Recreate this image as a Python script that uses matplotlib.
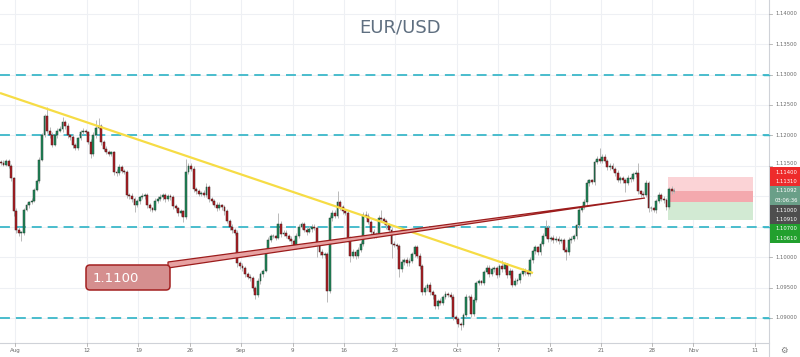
import matplotlib
matplotlib.use("Agg")
import matplotlib.pyplot as plt
from matplotlib.patches import Rectangle, FancyBboxPatch, Polygon
from matplotlib.lines import Line2D
from matplotlib.transforms import IdentityTransform

# ---------------- data (prices in pips: 11155 -> 1.1155) ----------------
first_bar_open = 11157
first_day_index = -2          # Jul 30, trading-day index relative to Aug 1
first_day_sub = 2             # first visible bar of that day
bars_per_day = 4

closes_by_day = [
    [11155, 11152],                       # Jul 30
    [11158, 11150, 11130, 11075],         # Jul 31
    [11045, 11040, 11040, 11078],         # Aug 1
    [11085, 11090, 11092, 11110],         # Aug 2
    [11125, 11160, 11200, 11232],         # Aug 5
    [11208, 11200, 11185, 11200],         # Aug 6
    [11208, 11210, 11222, 11215],         # Aug 7
    [11200, 11198, 11185, 11180],         # Aug 8
    [11195, 11205, 11208, 11205],         # Aug 9
    [11190, 11170, 11200, 11213],         # Aug 12
    [11215, 11190, 11178, 11172],         # Aug 13
    [11170, 11172, 11140, 11138],         # Aug 14
    [11148, 11142, 11140, 11102],         # Aug 15
    [11100, 11095, 11086, 11092],         # Aug 16
    [11098, 11100, 11102, 11085],         # Aug 19
    [11080, 11078, 11092, 11096],         # Aug 20
    [11098, 11102, 11096, 11100],         # Aug 21
    [11098, 11084, 11080, 11072],         # Aug 22
    [11075, 11066, 11140, 11150],         # Aug 23
    [11145, 11112, 11108, 11104],         # Aug 26
    [11106, 11102, 11116, 11095],         # Aug 27
    [11092, 11086, 11080, 11085],         # Aug 28
    [11082, 11075, 11060, 11050],         # Aug 29
    [11045, 11040, 10990, 10985],         # Aug 30
    [10982, 10972, 10968, 10965],         # Sep 2
    [10950, 10938, 10960, 10972],         # Sep 3
    [10978, 11010, 11028, 11034],         # Sep 4
    [11034, 11032, 11055, 11038],         # Sep 5
    [11040, 11035, 11030, 11026],         # Sep 6
    [11018, 11035, 11050, 11055],         # Sep 9
    [11045, 11042, 11046, 11050],         # Sep 10
    [11048, 11022, 11008, 11003],         # Sep 11
    [11005, 10945, 11065, 11072],         # Sep 12
    [11068, 11090, 11082, 11075],         # Sep 13
    [11072, 11030, 11002, 11008],         # Sep 16
    [11002, 11012, 11022, 11070],         # Sep 17
    [11068, 11058, 11042, 11035],         # Sep 18
    [11038, 11064, 11062, 11060],         # Sep 19
    [11052, 11045, 11022, 11020],         # Sep 20
    [11018, 10980, 10992, 10995],         # Sep 23
    [10990, 10994, 11005, 11016],         # Sep 24
    [11002, 10985, 10942, 10950],         # Sep 25
    [10955, 10942, 10937, 10920],         # Sep 26
    [10928, 10925, 10935, 10940],         # Sep 27
    [10938, 10935, 10902, 10898],         # Sep 30
    [10890, 10889, 10905, 10934],         # Oct 1
    [10935, 10906, 10930, 10957],         # Oct 2
    [10960, 10958, 10975, 10982],         # Oct 3
    [10972, 10980, 10982, 10970],         # Oct 4
    [10985, 10980, 10988, 10970],         # Oct 7
    [10978, 10955, 10960, 10962],         # Oct 8
    [10972, 10978, 10975, 10972],         # Oct 9
    [10995, 11010, 11016, 11008],         # Oct 10
    [11022, 11035, 11048, 11030],         # Oct 11
    [11032, 11028, 11030, 11026],         # Oct 14
    [11028, 11012, 11008, 11028],         # Oct 15
    [11030, 11034, 11052, 11078],         # Oct 16
    [11082, 11090, 11122, 11126],         # Oct 17
    [11124, 11156, 11162, 11158],         # Oct 18
    [11165, 11158, 11148, 11150],         # Oct 21
    [11145, 11138, 11127, 11130],         # Oct 22
    [11126, 11122, 11130, 11128],         # Oct 23
    [11136, 11138, 11108, 11104],         # Oct 24
    [11102, 11122, 11080, 11080],         # Oct 25
    [11078, 11092, 11102, 11096],         # Oct 28
    [11094, 11082, 11112, 11108],         # Oct 29
    [11109],                              # Oct 30
]

wick_up_by_day = [
    [3, 4], [4, 3, 3, 2], [5, 4, 3, 3], [4, 3, 5, 4], [3, 5, 4, 3],
    [14, 6, 5, 4], [4, 5, 8, 4], [5, 3, 4, 3], [3, 4, 5, 3], [3, 4, 5, 13],
    [13, 4, 3, 4], [4, 3, 3, 5], [5, 4, 3, 4], [4, 5, 3, 4], [3, 5, 4, 3],
    [4, 3, 5, 4], [5, 4, 3, 4], [3, 4, 4, 3], [4, 3, 22, 5], [4, 5, 3, 4],
    [3, 4, 5, 3], [4, 3, 4, 5], [3, 4, 4, 3], [4, 3, 5, 4], [5, 4, 3, 4],
    [4, 3, 5, 4], [3, 4, 5, 4], [4, 3, 17, 4], [5, 4, 3, 4], [4, 5, 4, 3],
    [3, 4, 5, 4], [4, 3, 4, 5], [4, 3, 5, 6], [5, 18, 4, 3], [4, 3, 4, 5],
    [3, 4, 5, 4], [5, 4, 3, 4], [4, 5, 14, 4], [3, 4, 4, 5], [4, 3, 5, 4],
    [5, 4, 3, 4], [4, 5, 3, 4], [3, 4, 4, 3], [4, 5, 3, 4], [3, 4, 4, 3],
    [4, 3, 4, 5], [3, 4, 5, 4], [4, 3, 4, 5], [5, 4, 3, 4], [4, 10, 4, 3],
    [4, 3, 5, 4], [3, 4, 4, 5], [5, 4, 4, 3], [4, 5, 13, 4], [3, 4, 5, 4],
    [4, 3, 4, 5], [5, 4, 3, 4], [4, 5, 4, 3], [3, 4, 5, 17], [5, 4, 3, 4],
    [4, 3, 5, 4], [3, 4, 5, 4], [4, 5, 17, 3], [5, 4, 3, 4], [3, 4, 5, 4],
    [4, 3, 4, 5], [4],
]

wick_dn_by_day = [
    [4, 3], [3, 4, 5, 7], [6, 5, 13, 3], [3, 4, 3, 2], [2, 3, 2, 3],
    [4, 5, 4, 3], [5, 3, 4, 5], [4, 5, 5, 4], [4, 3, 3, 4], [4, 7, 3, 4],
    [3, 5, 4, 3], [3, 4, 5, 4], [3, 4, 4, 5], [5, 4, 12, 3], [4, 3, 4, 5],
    [5, 4, 3, 3], [3, 4, 5, 4], [4, 5, 4, 5], [5, 8, 3, 4], [4, 5, 4, 3],
    [4, 3, 4, 5], [3, 4, 5, 3], [4, 5, 4, 5], [5, 4, 6, 4], [4, 5, 4, 5],
    [5, 6, 3, 4], [4, 3, 4, 3], [3, 4, 3, 5], [4, 3, 4, 5], [5, 4, 3, 4],
    [4, 5, 3, 4], [3, 22, 5, 4], [5, 19, 4, 5], [4, 3, 5, 4], [3, 5, 10, 4],
    [5, 4, 3, 4], [4, 3, 5, 4], [3, 4, 4, 5], [5, 4, 24, 4], [4, 12, 4, 5],
    [4, 5, 3, 4], [3, 4, 5, 4], [5, 4, 5, 6], [5, 4, 4, 3], [4, 3, 5, 4],
    [5, 8, 4, 3], [4, 5, 3, 4], [3, 4, 4, 3], [4, 3, 5, 4], [3, 4, 5, 4],
    [5, 4, 3, 4], [4, 3, 4, 3], [3, 4, 5, 4], [4, 3, 4, 5], [4, 5, 3, 4],
    [3, 4, 13, 4], [4, 3, 5, 4], [4, 3, 4, 5], [4, 5, 3, 4], [4, 3, 5, 4],
    [3, 4, 4, 5], [4, 15, 3, 4], [3, 4, 4, 5], [4, 3, 6, 4], [4, 5, 3, 4],
    [5, 4, 3, 4], [3],
]

date_ticks = [0, 7, 12, 17, 22, 27, 32, 37, 43, 47, 52, 57, 62, 66, 72]
date_labels = ["Aug", "12", "19", "26", "Sep", "9", "16", "23", "Oct",
               "7", "14", "21", "28", "Nov", "11"]
price_ticks = [1.090, 1.095, 1.100, 1.105, 1.110, 1.115, 1.120, 1.125,
               1.130, 1.135, 1.140]
level_lines = [1.130, 1.120, 1.105, 1.090]
callout_text = "1.1100"
stop_price, entry_price, target_price, last_price = 1.1131, 1.1091, 1.1061, 1.11092
countdown = "03:06:36"
tag_groups = [  # (labels, colour)
    (["1.11400", "1.11310"], "#ee2b2b"),
    (["1.11092", countdown], "#6a9f88"),
    (["1.11000", "1.10910"], "#4e4e4e"),
    (["1.10700", "1.10610"], "#22a02e"),
]
title = "EUR/USD"

# ---------------- figure ----------------
W, H = 800, 357
fig = plt.figure(figsize=(W / 100, H / 100), dpi=100)
fig.patch.set_facecolor("white")
AX_R, AX_B = 769, 343
ax = fig.add_axes([0, (H - AX_B) / H, AX_R / W, AX_B / H])
PX_PER_DAY = 10.28
X0 = 15  # pixel of Aug 1
ax.set_xlim(-X0 / PX_PER_DAY, (AX_R - X0) / PX_PER_DAY)
PX_PER_UNIT = 6086
ax.set_ylim(1.14 - (AX_B - 13.7) / PX_PER_UNIT, 1.14 + 13.7 / PX_PER_UNIT)
for s in ax.spines.values():
    s.set_visible(False)
ax.set_xticks([])
ax.set_yticks([])

def px_to_data(x, y):
    return (x - X0) / PX_PER_DAY, 1.14 - (y - 13.7) / PX_PER_UNIT

grid_c = "#eef0f4"
for d in date_ticks:
    ax.axvline(d, color=grid_c, lw=0.8, zorder=0)
for p in price_ticks:
    ax.axhline(p, color=grid_c, lw=0.8, zorder=0)

# horizontal dashed levels
for lv in level_lines:
    ax.axhline(lv, color="#3cb8c9", lw=1.3, dashes=(5.5, 3.3), zorder=1)

# ---------------- candles ----------------
prev = first_bar_open
for i, day in enumerate(closes_by_day):
    d = first_day_index + i
    start = first_day_sub if i == 0 else 0
    for k, c in enumerate(day):
        sub = start + k
        x = d + (sub + 0.5) / bars_per_day
        o = prev
        up = wick_up_by_day[i][k]
        dn = wick_dn_by_day[i][k]
        hi = (max(o, c) + up) / 1e4
        lo = (min(o, c) - dn) / 1e4
        ax.vlines(x, lo, hi, color="#b9b9b9", lw=0.7, zorder=2)
        if c >= o:
            fc, ec = "#1f8a5b", "#233d30"
        else:
            fc, ec = "#b51d24", "#3d1d1d"
        h = max(abs(c - o), 0.8) / 1e4
        ax.bar(x, h, bottom=min(o, c) / 1e4, width=0.18, color=fc,
               edgecolor=ec, linewidth=0.35, zorder=3)
        prev = c

# ---------------- trend lines ----------------
xa, ya = px_to_data(0, 93)
xb, yb = px_to_data(533, 273)
ax.plot([xa, xb], [ya, yb], color="#f6dc45", lw=1.6, zorder=4,
        solid_capstyle="butt")

p1 = px_to_data(168, 262)
p2 = px_to_data(168, 268)
p3 = px_to_data(645, 198)
ax.add_patch(Polygon([p1, p3, p2], closed=True, facecolor="#e7a2a2",
                     edgecolor="#9c1c1c", lw=0.9, zorder=5))

# ---------------- position box ----------------
bx0, _ = px_to_data(668, 0)
bx1, _ = px_to_data(753, 0)
ax.add_patch(Rectangle((bx0, entry_price), bx1 - bx0, stop_price - entry_price,
                       facecolor="#fbd3d6", edgecolor="none", zorder=1.5))
ax.add_patch(Rectangle((bx0, entry_price), bx1 - bx0, last_price - entry_price,
                       facecolor="#f4a9ae", edgecolor="none", zorder=1.6))
ax.add_patch(Rectangle((bx0, target_price), bx1 - bx0, entry_price - target_price,
                       facecolor="#d2ead3", edgecolor="none", zorder=1.5))

# ---------------- pixel-space decorations ----------------
idt = IdentityTransform()

def fy(y):
    return H - y

# callout box
box = FancyBboxPatch((86, fy(290)), 84, 25, boxstyle="round,pad=0,rounding_size=4",
                     transform=idt, facecolor="#d58f8f", edgecolor="#a32121",
                     lw=1.1, zorder=10)
fig.add_artist(box)
fig.text(93 / W, 1 - 278 / H, callout_text, color="white", fontsize=9.5,
         va="center", ha="left", zorder=11)

# title
fig.text(400 / W, 1 - 28 / H, title, color="#5f6f80", fontsize=13,
         ha="center", va="center")

# axis separators
fig.add_artist(Line2D([AX_R / W, AX_R / W], [0, 1], color="#cfd2d8", lw=0.8))
fig.add_artist(Line2D([0, AX_R / W], [1 - AX_B / H, 1 - AX_B / H],
                      color="#cfd2d8", lw=0.8))

# coloured axis tags
tag_top = 167
tag_h = 19
tag_bottom = tag_top + tag_h * len(tag_groups)

# price labels (those hidden behind the tags are not drawn)
lab_c = "#6a6a6a"
for p in price_ticks:
    y = 13.7 + (1.14 - p) * PX_PER_UNIT
    if tag_top - 3 < y < tag_bottom:
        if y < tag_top + 2:
            y_txt = tag_top - 3.5
        else:
            continue
    else:
        y_txt = y
    fig.text(775 / W, 1 - y_txt / H, f"{p:.5f}", color=lab_c, fontsize=3.8,
             ha="left", va="center")
    fig.add_artist(Line2D([AX_R / W, 772 / W], [1 - y / H, 1 - y / H],
                          color="#b0b0b0", lw=0.6))
for lv in level_lines:
    y = 13.7 + (1.14 - lv) * PX_PER_UNIT
    fig.add_artist(Line2D([(AX_R - 5) / W, AX_R / W], [1 - y / H, 1 - y / H],
                          color="#3cb8c9", lw=1.0))

for labels, col in tag_groups:
    fig.add_artist(Rectangle((AX_R + 1, fy(tag_top + tag_h)), W - AX_R - 1, tag_h,
                             transform=idt, facecolor=col, edgecolor="none",
                             zorder=12))
    for j, t in enumerate(labels):
        yy = tag_top + 5 + j * 9.5
        fig.text(775 / W, 1 - yy / H, t, color="white", fontsize=3.8,
                 ha="left", va="center", zorder=13)
    tag_top += tag_h

# date labels
for d, t in zip(date_ticks, date_labels):
    x = X0 + d * PX_PER_DAY
    fig.text(x / W, 1 - 350.5 / H, t, color=lab_c, fontsize=4.0,
             ha="center", va="center")
    fig.add_artist(Line2D([x / W, x / W], [1 - AX_B / H, 1 - 346 / H],
                          color="#b0b0b0", lw=0.6))

fig.text(784 / W, 1 - 350 / H, "\u2699", color="#777777", fontsize=6,
         ha="center", va="center", family="DejaVu Sans")

fig.savefig("out.png", dpi=100, facecolor="white")
